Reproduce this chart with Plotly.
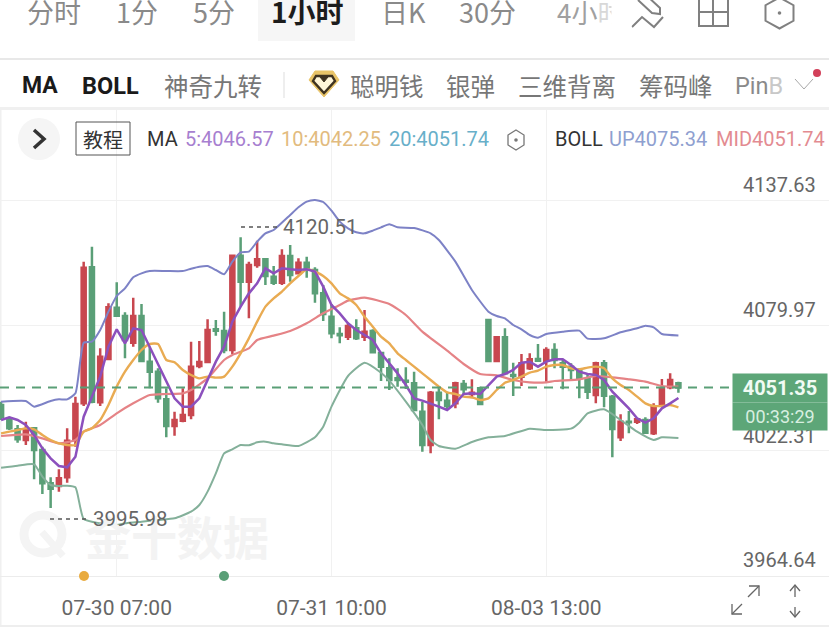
import plotly.graph_objects as go

W, H = 829, 636

# ---------- data ----------
OPEN = [4043.33,4037.2,4032.14,4027.23,4032.6,4022.63,4007.3,4006.07,4010.06,4027.23,4044.1,4106.66,4044.56,4064.49,4088.1,4084.27,4072.0,4084.27,
4063.26,4058.66,4045.94,4033.67,4036.12,4038.73,4061.27,4063.1,4078.14,4077.37,4068.63,4112.03,4100.06,4107.73,4110.34,4102.36,4099.6,4111.87,
4103.9,4108.8,4105.43,4094.7,4083.96,4075.99,4074.76,4078.6,4074.76,4077.37,4067.25,4060.2,4055.6,4054.53,4053.3,4040.27,4024.93,4049.0,4045.33,
4044.1,4052.99,4048.39,4051.0,4082.43,4063.57,4074.46,4057.13,4056.36,4060.2,4064.49,4063.72,4068.63,4062.5,4060.96,4059.12,4055.14,4047.93,4062.5,
4047.16,4028.46,4035.66,4035.66,4036.43,4030.3,4043.33,4051.46,4053.3]
HIGH = [4044.86,4037.96,4034.13,4035.67,4033.06,4024.16,4010.06,4013.74,4032.6,4047.17,4109.26,4116.16,4069.4,4090.1,4099.76,4085.96,4092.7,4089.8,
4070.16,4060.2,4051.0,4040.27,4051.0,4072.46,4072.77,4082.74,4082.43,4086.27,4112.33,4120.51,4109.26,4118.92,4110.8,4107.27,4114.94,4116.93,
4110.8,4111.57,4106.66,4098.53,4089.79,4079.06,4080.9,4082.74,4087.03,4078.14,4067.56,4064.8,4060.2,4060.66,4058.66,4044.86,4049.77,4051.76,4049.46,
4054.07,4054.83,4055.14,4051.76,4082.43,4074.76,4078.6,4062.8,4066.79,4067.1,4071.39,4069.86,4071.7,4064.03,4062.5,4060.2,4057.13,4063.26,4064.03,
4047.93,4039.04,4040.57,4037.2,4037.66,4044.1,4055.29,4057.9,4054.06]
LOW = [4036.43,4031.83,4026.0,4024.93,4009.14,4002.39,3995.98,4003.47,4007.6,4024.16,4042.87,4044.1,4042.87,4064.34,4084.27,4064.8,4070.16,4063.26,
4051.0,4044.4,4028.46,4029.23,4035.36,4036.73,4060.2,4062.8,4075.23,4067.1,4066.79,4088.56,4083.2,4106.5,4098.53,4098.53,4098.53,4100.06,
4103.44,4101.9,4090.4,4081.97,4074.0,4071.7,4073.23,4073.23,4072.77,4067.56,4054.37,4050.23,4051.76,4050.69,4040.73,4021.87,4021.1,4036.73,4041.03,
4041.8,4047.93,4046.4,4043.64,4063.57,4063.26,4057.6,4047.47,4052.07,4059.43,4063.72,4054.07,4060.2,4050.54,4054.37,4046.4,4046.09,4044.1,4042.26,
4019.26,4026.77,4030.3,4034.59,4030.3,4029.53,4042.56,4050.54,4048.99]
CLOSE = [4037.96,4032.6,4027.54,4032.14,4022.63,4007.3,4004.85,4009.6,4026.9,4043.8,4106.5,4044.86,4065.57,4088.26,4084.4,4073.23,4084.27,4063.57,
4058.66,4046.4,4033.67,4036.43,4038.73,4060.96,4063.1,4077.83,4077.53,4068.63,4112.03,4100.06,4107.73,4110.34,4102.67,4099.6,4111.87,4103.13,
4108.8,4105.74,4094.7,4085.2,4076.3,4075.38,4079.67,4074.0,4077.07,4067.56,4060.96,4054.83,4054.83,4054.07,4041.03,4024.93,4049.0,4045.63,4042.87,
4053.3,4050.54,4049.0,4043.79,4063.57,4074.46,4057.9,4056.67,4062.5,4064.34,4063.72,4068.63,4064.03,4060.96,4059.43,4055.6,4049.46,4062.5,4047.62,
4032.29,4035.66,4035.36,4036.74,4030.6,4042.56,4051.0,4054.83,4051.35]

MA5 = [4036.43,4037.66,4036.43,4034.13,4029.53,4023.4,4018.8,4015.27,4014.66,4019.57,4037.96,4047.17,4056.36,4070.16,4078.14,4071.7,4078.6,4077.83,
4070.16,4061.73,4054.07,4046.4,4042.57,4042.57,4046.4,4054.83,4063.26,4070.16,4081.66,4088.57,4094.7,4099.3,4106.2,4103.9,
4106.2,4105.74,4105.43,4105.74,4104.67,4097.77,4089.33,4085.5,4080.9,4077.83,4075.53,4073.23,4067.1,4062.5,4057.9,4052.53,4046.4,4045.33,4044.1,
4042.57,4041.03,4044.1,4048.39,4048.7,4048.39,4052.53,4056.36,4057.59,4059.43,4062.8,4063.26,4060.96,4063.26,
4064.34,4064.34,4061.73,4058.66,4057.59,4057.13,4054.83,4049.46,4045.63,4041.8,4037.2,4035.2,4037.2,4041.8,4044.1,4046.57]
MA10 = [4030.3,4031.07,4031.83,4032.6,4032.14,4029.53,4027.23,4025.7,4024.93,4024.93,4031.07,4032.6,4036.43,4043.33,4051.77,4058.67,4064.03,4068.63,
4071.39,4071.39,4064.03,4062.96,4059.43,4057.13,4055.6,4056.37,4055.9,4056.37,4060.97,4067.1,4074.0,4081.66,4088.57,4092.4,
4095.47,4099.3,4102.67,4105.74,4104.67,4102.67,4099.3,4094.7,4092.4,4089.33,4083.96,4079.36,4074.76,4071.7,4067.1,4064.03,4060.97,4057.9,4054.83,
4051.77,4049.16,4048.39,4047.16,4046.86,4045.63,4046.4,4050.23,4053.6,4054.83,4056.37,4058.2,4059.12,4060.97,
4061.73,4061.73,4060.2,4059.74,4060.5,4060.97,4060.2,4055.6,4052.53,4050.23,4047.16,4044.1,4042.87,4042.87,4043.33,4042.25]

MID_X = [0,3,5,7,9,10,12,14,16,18,20,22,23,25,27,28,30,31,33,35,37,39,41,42,44,47,49,51,54,56,58,60,62,64,66,67,70,72,74,76,78,80,82]
MID = [4029.07,4029.84,4027.99,4025.7,4027.23,4031.07,4034.13,4039.5,4044.1,4047.93,4048.39,4048.7,4050.23,4055.6,4064.03,4066.33,4069.4,4073.23,
4075.22,4077.37,4080.9,4085.5,4089.33,4091.33,4092.7,4089.79,4084.73,4077.07,4068.33,4062.2,4057.59,4056.98,4054.83,4053.76,4053.76,
4054.37,4055.14,4056.67,4056.06,4055.14,4054.07,4052.07,4051.74]

UP_X = [0,3,4,6,7,8,9,10,11,12,13,14,15,16,17,18,20,22,23,24,25,26,27,28,29,30,31,32,33,35,36,37,38,39,40,41,42,43,44,45,46,47,48,50,52,53,55,57,59,60,61,62,63,64,65,66,68,70,71,73,75,77,78,79,80,82]
UP = [4044.86,4045.17,4042.57,4045.17,4045.94,4045.94,4048.7,4072.0,4072.46,4077.83,4086.27,4093.47,4096.96,4102.06,4103.9,4104.97,4104.97,4104.97,
4106.04,4106.96,4107.27,4105.43,4103.44,4109.26,4113.56,4113.86,4118.46,4122.3,4123.83,4130.73,4134.26,4136.86,4137.63,4136.71,4132.72,4127.66,
4124.6,4122.76,4122.3,4123.52,4125.06,4126.44,4125.06,4124.75,4122.3,4119.23,4109.26,4096.23,4086.27,4084.27,4083.2,4080.13,4078.14,4075.53,4074.3,4075.99,
4077.06,4077.52,4073.84,4074.0,4076.76,4078.6,4079.82,4079.06,4075.99,4075.34]

LOW_X = [0,2,4,5,6,7,8,9,10,12,14,15,17,19,21,23,24,25,26,27,28,29,30,31,32,33,34,36,38,39,40,42,44,46,47,49,51,52,53,55,57,59,61,64,66,69,70,71,73,75,77,79,80,82]
BOLL_LOW = [4014.51,4015.43,4016.04,4010.37,4006.53,4006.07,4006.23,4005.46,3990.89,3988.9,3988.13,3988.9,3989.67,3990.43,3991.2,3994.27,3997.33,4003.47,
4011.9,4021.1,4022.94,4024.93,4024.78,4026.16,4026.47,4025.7,4025.24,4024.47,4028.46,4033.37,4042.57,4056.67,4062.8,4058.2,4054.53,4044.86,4034.13,
4027.23,4024.47,4023.24,4026.31,4028.46,4029.07,4032.44,4031.83,4032.44,4035.2,4039.5,4041.34,4036.43,4031.07,4027.23,4028.46,4028.14]

LAST_PRICE = 4051.35
Y_TICKS = [3964.64, 4022.31, 4079.97, 4137.63]
X_TICKS = [14, 40, 66]
X_LABELS = ["07-30 07:00", "07-31 10:00", "08-03 13:00"]

RED, GREEN = "#c8474f", "#5a9f77"
LATIN = "Roboto, 'Noto Sans CJK SC', sans-serif"
CJK = "'Noto Sans CJK SC', Roboto, sans-serif"


def px(x):
    return x / W


def py(y):
    return 1 - y / H


fig = go.Figure()
fig.add_trace(go.Candlestick(
    x=list(range(len(OPEN))), open=OPEN, high=HIGH, low=LOW, close=CLOSE,
    increasing=dict(line=dict(color=RED, width=2.5), fillcolor=RED),
    decreasing=dict(line=dict(color=GREEN, width=2.5), fillcolor=GREEN),
    whiskerwidth=0, hoverinfo="skip"))


def add_line(xs, ys, color, width, spline=True):
    fig.add_trace(go.Scatter(
        x=xs, y=ys, mode="lines", hoverinfo="skip",
        line=dict(color=color, width=width, shape="spline" if spline else "linear", smoothing=0.5)))


add_line(UP_X, UP, "#7d82c6", 2)
add_line(LOW_X, BOLL_LOW, "#84b09a", 2)
add_line(MID_X, MID, "#e58386", 2.2)
add_line(list(range(len(MA10))), MA10, "#e9ab52", 2.4)
add_line(list(range(len(MA5))), MA5, "#8c50bd", 2.5, spline=False)

shapes, anns = [], []


def rect(x0, y0, x1, y1, fill, line=None, lw=0):
    shapes.append(dict(type="rect", xref="paper", yref="paper", x0=px(x0), x1=px(x1), y0=py(y0), y1=py(y1),
                       fillcolor=fill, line=dict(color=line or fill, width=lw), layer="below"))


def seg(pts, color, lw=2, fill=None, close=False, dash=None, layer="above"):
    d = "M" + " L".join(f"{px(x):.5f},{py(y):.5f}" for x, y in pts) + (" Z" if close else "")
    shapes.append(dict(type="path", xref="paper", yref="paper", path=d, layer=layer,
                       fillcolor=fill or "rgba(0,0,0,0)", line=dict(color=color, width=lw, dash=dash or "solid")))


def circ(cx, cy, r, fill, line=None, lw=0, layer="above"):
    shapes.append(dict(type="circle", xref="paper", yref="paper", x0=px(cx - r), x1=px(cx + r), y0=py(cy - r), y1=py(cy + r),
                       fillcolor=fill, line=dict(color=line or fill, width=lw), layer=layer))


def hexagon(cx, cy, rx, ry, color, lw):
    seg([(cx, cy - ry), (cx + rx, cy - ry / 2), (cx + rx, cy + ry / 2), (cx, cy + ry), (cx - rx, cy + ry / 2), (cx - rx, cy - ry / 2)],
        color, lw, close=True)
    circ(cx, cy, 1.8, color)


def text(x, y, s, size, color, anchor="left", family=LATIN, **kw):
    anns.append(dict(xref="paper", yref="paper", x=px(x), y=py(y), text=s, showarrow=False, xanchor=anchor, yanchor="middle",
                     font=dict(size=size, color=color, family=family), borderpad=0, **kw))


# panels and separators
rect(258, -2, 355, 41, "#f6f6f6")
rect(0, 58, W, 60, "#e8e8e8")
rect(0, 107, W, 110, "#f0f0f0")
rect(0, 625, W, 627, "#eeeeee")
rect(0, 110, 1.5, 625, "#f0f0f0")

# top tabs
G1 = "#8a8a8a"
for x, s in [(26, "分时"), (115, "1分"), (192, "5分"), (380, "日K"), (458, "30分")]:
    text(x, 12, s, 27, G1, family=CJK)
text(270, 11, "<b>1小时</b>", 28, "#1c1c1c", family=CJK)
text(556, 12, "4小<span style='color:#d8d8d8'>时</span>", 26, "#a0a0a0", family=CJK)
text(611, 12, " ", 10, "#ffffff", bgcolor="#ffffff", width=19, height=40)   # fades the clipped tab
seg([(632, 27), (642, 17), (654, 27), (663, 17)], "#808080", 2)
seg([(638, 0), (652, 13), (660, 14), (660, 8), (646, -5)], "#808080", 2)
seg([(699, -2), (699, 26), (728, 26), (728, -2)], "#808080", 2)
seg([(699, 12), (728, 12)], "#808080", 2)
seg([(713, -2), (713, 26)], "#808080", 2)
hexagon(779.5, 13, 14, 15.5, "#808080", 2)

# indicator row
text(21, 86, "<b>MA</b>", 23, "#1a1a1a")
text(81, 86, "<b>BOLL</b>", 23.5, "#1a1a1a")
G2 = "#777777"
text(163, 86, "神奇九转", 24.5, G2, family=CJK)
rect(283, 72, 285, 98, "#eeeeee")
seg([(315, 71), (333, 71), (339, 80), (324, 97), (309, 80)], "#e9c468", 1, fill="#e9c468", close=True)
seg([(316, 76), (332, 76), (335, 81), (324, 93), (313, 81)], "#3f3320", 2.4, fill="#fff6d8", close=True)
seg([(320, 77), (328, 77), (324, 82)], "#3f3320", 1, fill="#3f3320", close=True)
text(349, 86, "聪明钱", 24.5, G2, family=CJK)
text(445, 86, "银弹", 24.5, G2, family=CJK)
text(517, 86, "三维背离", 24.5, G2, family=CJK)
text(638, 86, "筹码峰", 24.5, G2, family=CJK)
text(734, 86, "Pin<span style='color:#c8c8c8'>B</span>", 23.5, "#8a8a8a")
seg([(795, 79), (804, 89), (813, 79)], "#a8a8a8", 1)
circ(817, 73, 4, "#d2405a")

# legend row
circ(39, 139, 21, "#f5f5f5", layer="below")
seg([(34, 130), (44, 139), (34, 148)], "#333333", 3.5)
shapes.append(dict(type="rect", xref="paper", yref="paper", x0=px(76), x1=px(130), y0=py(122), y1=py(155),
                   line=dict(color="#555555", width=1), fillcolor="rgba(0,0,0,0)"))
text(103, 139, "教程", 20, "#333333", anchor="center", family=CJK)
text(146, 139, "MA", 20, "#333333")
text(184, 139, "5:4046.57", 20, "#a77fd0")
text(280, 139, "10:4042.25", 20, "#e2bb7e")
text(388, 139, "20:4051.74", 20, "#68afc9")
hexagon(516, 140, 8, 10, "#777777", 1.3)
text(554, 139, "BOLL", 20, "#333333")
text(608, 139, "UP4075.34", 20, "#8f9fd0")
text(715, 139, "MID4051.74", 20, "#e38b91")

# watermark
circ(43, 534, 19, "rgba(0,0,0,0)", line="#f4f4f4", lw=9, layer="below")
seg([(42, 532), (63, 556)], "#f4f4f4", 7, layer="below")
text(84, 535, "<b>金十数据</b>", 46, "#f3f3f3", family=CJK)

# current-price line
shapes.append(dict(type="line", xref="paper", yref="y", x0=0, x1=px(733), y0=LAST_PRICE, y1=LAST_PRICE,
                   line=dict(color=GREEN, width=2, dash="9px,7px")))

# high/low markers
seg([(241, 227), (281, 227)], "#555555", 1.5, dash="4px,4px")
text(282, 227, "4120.51", 20.5, "#666666")
seg([(50, 519), (90, 519)], "#555555", 1.5, dash="4px,4px")
text(92, 519, "3995.98", 20.5, "#666666")

# price labels above each grid line
for v, y in [(4137.63, 185), (4079.97, 310), (4022.31, 436), (3964.64, 560)]:
    text(817, y, f"{v:.2f}", 20, "#666666", anchor="right")

# event dots
circ(84, 576, 5, "#e9ab3f")
circ(224, 576, 5, GREEN)

# current-price box (after labels so it covers the one behind it)
text(780, 388, f"<b>{LAST_PRICE:.2f}</b>", 20, "#f1fbf4", anchor="center", bgcolor="#5da678", width=94, height=28)
text(780, 416, "00:33:29", 18, "#d8efe0", anchor="center", bgcolor="#5da678", width=94, height=27)

# bottom-right tools
G3 = "#666666"
seg([(732, 614), (742, 604)], G3, 1.3)
seg([(748, 597), (759, 586)], G3, 1.3)
seg([(749, 586), (759, 586), (759, 596)], G3, 1.3)
seg([(732, 604), (732, 614), (742, 614)], G3, 1.3)
seg([(795, 585), (795, 597)], G3, 1.3)
seg([(790, 591), (795, 585), (800, 591)], G3, 1.3)
seg([(795, 607), (795, 617)], G3, 1.3)
seg([(790, 611), (795, 617), (800, 611)], G3, 1.3)

fig.update_layout(
    width=W, height=H, margin=dict(l=0, r=0, t=0, b=0), paper_bgcolor="white", plot_bgcolor="white",
    showlegend=False, hovermode=False, shapes=shapes, annotations=anns,
    xaxis=dict(range=[-0.13, 100.23], rangeslider=dict(visible=False), tickmode="array", tickvals=X_TICKS, ticktext=X_LABELS,
               showgrid=True, gridcolor="#f1f1f1", gridwidth=1, zeroline=False, showline=True, linecolor="#ececec", linewidth=1,
               ticks="outside", ticklen=13, tickcolor="rgba(0,0,0,0)", tickfont=dict(size=21, color="#666666", family=LATIN)),
    yaxis=dict(domain=[60 / H, 1 - 110 / H], range=[3964.67, 4179.03], tickmode="array", tickvals=Y_TICKS, showticklabels=False,
               showgrid=True, gridcolor="#f1f1f1", gridwidth=1, zeroline=False, ticks=""),
)

fig.write_html("out.html", config=dict(displayModeBar=False),
               post_script="document.body.style.margin='0';document.body.style.overflow='hidden';")
